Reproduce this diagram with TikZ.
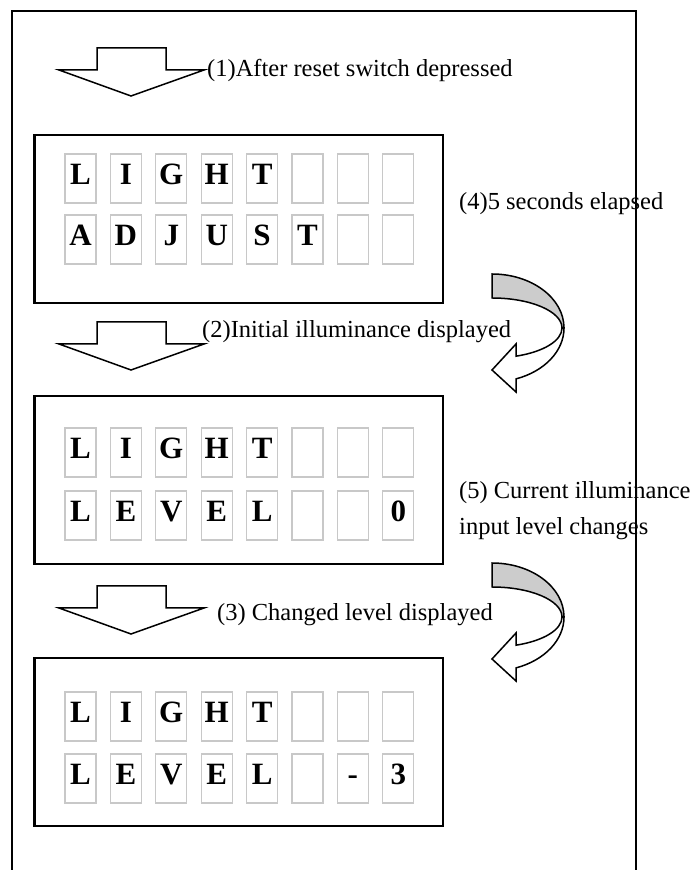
\documentclass[tikz,border=0pt]{standalone}
\usepackage{fontspec}
\setmainfont{Liberation Serif}
\definecolor{cellgray}{HTML}{C8C8C8}
\definecolor{backgray}{HTML}{CCCCCC}
% one row of eight character cells: #1 name prefix, #2 top edge, #3 characters
\newcommand\lcdrow[3]{%
  \foreach \ch [count=\i from 0] in {#3} {
    \node[cell] (#1-\i) at ({80.5+45.4*\i},{#2-24.5}) {};
    \node[glyph] (#1-\i-t) at ({80.5+45.4*\i},{#2-31}) {\ch};
  }%
}
\begin{document}
\begin{tikzpicture}[x=1pt,y=1pt,
  frame/.style={line width=2.6pt},
  panel/.style={draw, line width=2.4pt, inner sep=0pt, minimum width=408.5pt, minimum height=168pt},
  cell/.style={draw=cellgray, line width=1.3pt, minimum width=31pt, minimum height=49pt, inner sep=0pt},
  glyph/.style={anchor=base, inner sep=0pt, font=\fontsize{31}{31}\selectfont\bfseries},
  caption/.style={anchor=base west, inner sep=0pt, font=\fontsize{24.5}{36}\selectfont},
  blockarrow/.style={draw, line width=1.5pt, fill=white, line join=miter},
  turn/.style={draw, line width=1.5pt, line join=miter},
  downblock/.pic={
    \draw[blockarrow] (-72,-22) -- (-34,-22) -- (-34,0) -- (35,0) -- (35,-22)
      -- (73,-22) -- (0,-48) -- cycle;
  },
  uturn/.pic={
    \draw[turn, fill=backgray] (0,54) arc[start angle=90, end angle=0, x radius=72, y radius=54]
      -- (70,0) arc[start angle=0, end angle=90, x radius=70, y radius=30] -- cycle;
    \draw[turn, fill=white] (72,0) arc[start angle=0, end angle=-70.53, x radius=72, y radius=54]
      -- (24,-64) -- (0,-42) -- (24,-16) -- (24,-28.2)
      arc[start angle=-69.95, end angle=0, x radius=70, y radius=30] -- cycle;
  },
]
\useasboundingbox (0,0) rectangle (689,870);

% outer frame, open at the bottom
\draw[frame] (12,0) -- (12,859) -- (636,859) -- (636,0);

% the three display panels
\node[panel] (panel1) at (238.75,651) {};
\node[panel] (panel2) at (238.75,390) {};
\node[panel] (panel3) at (238.75,128) {};

\lcdrow{aa}{716}{L,I,G,H,T,{},{},{}}
\lcdrow{ab}{655}{A,D,J,U,S,T,{},{}}
\lcdrow{ba}{442}{L,I,G,H,T,{},{},{}}
\lcdrow{bb}{379}{L,E,V,E,L,{},{},0}
\lcdrow{ca}{178}{L,I,G,H,T,{},{},{}}
\lcdrow{cb}{116}{L,E,V,E,L,{},-,3}

% step arrows
\pic at (131,822) {downblock};
\pic at (131,548) {downblock};
\pic at (131,284) {downblock};

% turning arrows on the right
\pic at (492,542) {uturn};
\pic at (492,253) {uturn};

% captions
\node[caption] (cap1) at (207,793) {(1)After reset switch depressed};
\node[caption] (cap2) at (202,532) {(2)Initial illuminance displayed};
\node[caption] (cap3) at (217,249) {(3) Changed level displayed};
\node[caption] (cap4) at (459,660) {(4)5 seconds elapsed};
\node[caption] (cap5a) at (459,371) {(5) Current illuminance};
\node[caption] (cap5b) at (459,335) {input level changes};
\end{tikzpicture}
\end{document}
